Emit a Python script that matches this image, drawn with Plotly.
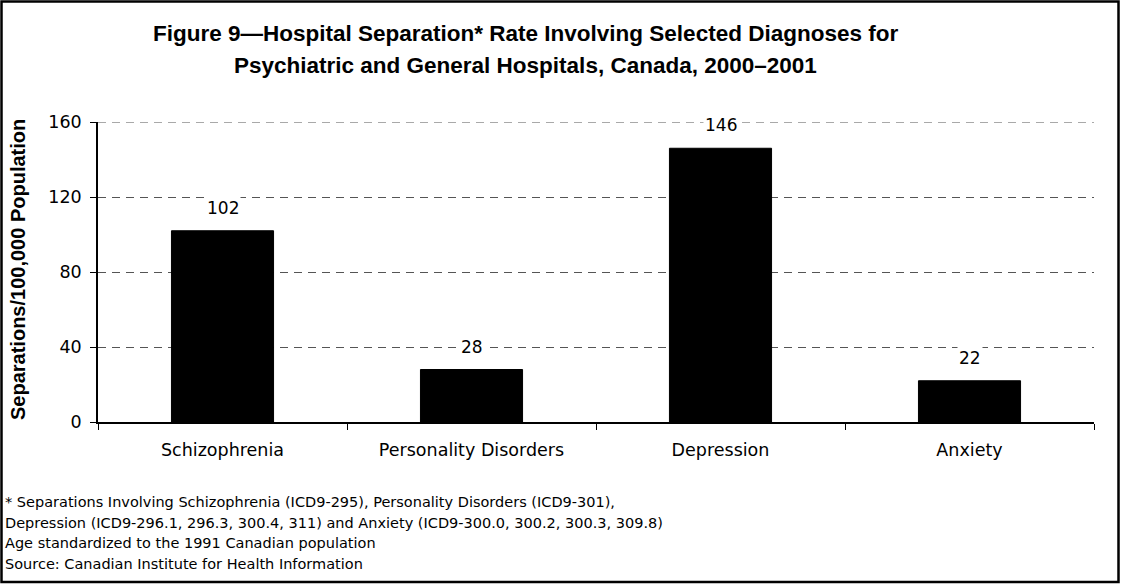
import plotly.graph_objects as go

categories = ["Schizophrenia", "Personality Disorders", "Depression", "Anxiety"]
values = [102, 28, 146, 22]
y_ticks = [0, 40, 80, 120, 160]

title_lines = ["Figure 9\u2014Hospital Separation* Rate Involving Selected Diagnoses for",
               "Psychiatric and General Hospitals, Canada, 2000\u20132001"]
y_title = "Separations/100,000 Population"
notes = [
    "* Separations Involving Schizophrenia (ICD9-295), Personality Disorders (ICD9-301),",
    "Depression (ICD9-296.1, 296.3, 300.4, 311) and Anxiety (ICD9-300.0, 300.2, 300.3, 309.8)",
    "Age standardized to the 1991 Canadian population",
    "Source: Canadian Institute for Health Information",
]

W, H = 1121, 586
L, R, T, B = 98, 27, 122, 164
PW, PH = W - L - R, H - T - B

def px_x(x):
    return (x - L) / PW

def px_y(y):
    return (H - B - y) / PH

FONT = "DejaVu Sans, Verdana, sans-serif"
BOLD = "Liberation Sans, Arial, sans-serif"

fig = go.Figure(go.Bar(
    x=categories, y=values,
    marker=dict(color="black", line=dict(color="black", width=1)),
    width=0.41, hoverinfo="skip",
))

# value labels above the bars
for c, v in zip(categories, values):
    fig.add_annotation(
        x=c, y=v, xref="x", yref="y", text=str(v), showarrow=False,
        yanchor="bottom", yshift=11, font=dict(family=FONT, size=17, color="black"),
        bgcolor="white",
    )

fig.update_layout(
    width=W, height=H,
    margin=dict(l=L, r=R, t=T, b=B, pad=0),
    paper_bgcolor="white", plot_bgcolor="white",
    showlegend=False,
    font=dict(family=FONT, color="black"),
)
fig.update_xaxes(
    type="category", showline=True, linecolor="black", linewidth=1.5,
    ticks="outside", tickson="boundaries", ticklen=6, tickcolor="black",
    tickfont=dict(size=17.5), showgrid=False, ticklabelstandoff=11,
)
fig.update_yaxes(
    range=[0, 160], tickvals=y_ticks, showline=True, linecolor="black", linewidth=1.5,
    ticks="outside", ticklen=6, tickcolor="black", tickfont=dict(size=17.5),
    ticklabelstandoff=5,
    showgrid=True, gridcolor="#555555", griddash="8px,6px", gridwidth=1,
    zeroline=False,
)

# top dashed gridline at 160 (plotly skips the one on the range edge)
fig.add_shape(type="line", xref="paper", yref="y", x0=0, x1=1, y0=160, y1=160,
              line=dict(color="#555555", width=1, dash="8px,6px"), layer="below")

fig.add_annotation(
    x=px_x(18), y=px_y(270), xref="paper", yref="paper", text="<b>" + y_title + "</b>",
    showarrow=False, textangle=-90, xanchor="center", yanchor="middle",
    font=dict(size=20, family=BOLD),
)

for i, line in enumerate(title_lines):
    fig.add_annotation(
        x=px_x(525), y=px_y(33 + i * 32), xref="paper", yref="paper",
        text="<b>" + line + "</b>",
        showarrow=False, xanchor="center", yanchor="middle",
        font=dict(size=22.5, family=BOLD),
    )

for i, line in enumerate(notes):
    fig.add_annotation(
        x=px_x(3), y=px_y(502 + i * 20.5), xref="paper", yref="paper",
        text=line, showarrow=False, xanchor="left", yanchor="middle",
        font=dict(size=14.5, family=FONT),
    )

fig.add_shape(
    type="rect", xref="paper", yref="paper",
    x0=px_x(1.5), x1=px_x(1118.5), y0=px_y(582), y1=px_y(1.5),
    line=dict(color="black", width=2.5), fillcolor="rgba(0,0,0,0)",
)

fig.write_html(
    "out.html",
    config={"displayModeBar": False},
    post_script="document.body.style.margin='0';document.body.style.overflow='hidden';",
)
